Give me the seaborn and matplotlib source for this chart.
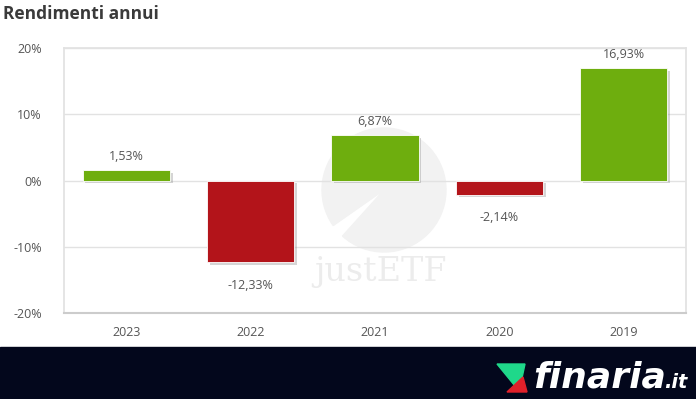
import numpy as np
import pandas as pd
import matplotlib
matplotlib.use("Agg")
import matplotlib.pyplot as plt
import matplotlib.patheffects as pe
from matplotlib.patches import Rectangle, Wedge, Polygon
import seaborn as sns

years = ["2023", "2022", "2021", "2020", "2019"]
returns = [1.53, -12.33, 6.87, -2.14, 16.93]
y_ticks = [-20, -10, 0, 10, 20]

green = "#6eae0e"
red = "#b3141a"

df = pd.DataFrame({"anno": years, "rendimento": returns})
colors = [green if v >= 0 else red for v in returns]

sns.set_theme(style="white")
plt.rcParams["font.family"] = ["Open Sans", "DejaVu Sans"]

fig = plt.figure(figsize=(6.96, 3.99), dpi=100)
ax = fig.add_axes([64 / 696, 1 - 313 / 399, 622 / 696, 265 / 399])

# watermark behind the chart
wm = fig.add_axes([0, 0, 1, 1], zorder=0)
wm.set_xlim(0, 696)
wm.set_ylim(399, 0)
wm.axis("off")
wm.add_patch(Wedge((384, 190), 62, 145, 132, color="#f2f2f2"))
wm.text(380, 272, "justETF", family="DejaVu Serif", fontsize=24, color="#ececec",
        ha="center", va="center")
ax.set_zorder(1)
ax.patch.set_alpha(0)

sns.barplot(data=df, x="anno", y="rendimento", hue="anno", palette=colors,
            legend=False, width=0.7, saturation=1, ax=ax, zorder=3)
for bar in ax.patches:
    bar.set_edgecolor("white")
    bar.set_linewidth(0.6)
    bar.set_path_effects([pe.SimplePatchShadow(offset=(2, -2), shadow_rgbFace="#888888", alpha=0.35),
                          pe.Normal()])

for i, v in enumerate(returns):
    txt = f"{v:.2f}".replace(".", ",") + "%"
    if v >= 0:
        ax.annotate(txt, (i, v), xytext=(0, 5), textcoords="offset points",
                    ha="center", va="bottom", fontsize=9, color="#555555")
    else:
        ax.annotate(txt, (i, v), xytext=(0, -12), textcoords="offset points",
                    ha="center", va="top", fontsize=9, color="#555555")

ax.set_ylim(-20, 20)
ax.set_yticks(y_ticks)
ax.set_yticklabels([f"{t}%" for t in y_ticks])
ax.set_xlim(-0.5, 4.5)
ax.grid(axis="y", color="#e2e2e2", linewidth=1, zorder=0)
ax.set_xlabel("")
ax.set_ylabel("")
ax.tick_params(axis="both", length=0, labelsize=9, colors="#555555")
ax.tick_params(axis="y", pad=16)
ax.tick_params(axis="x", pad=9)
for s in ["top", "right", "left"]:
    ax.spines[s].set_color("#e2e2e2")
ax.spines["bottom"].set_color("#cccccc")
ax.spines["bottom"].set_linewidth(1.5)

fig.text(3 / 696, 1 - 14 / 399, "Rendimenti annui", fontsize=12.5, fontweight="bold",
         color="#3a3a3a", ha="left", va="center")

# footer band with logo
fig.patches.append(Rectangle((0, 0), 1, 52 / 399, transform=fig.transFigure,
                             color="#03071c", zorder=0))
px = lambda x, y: (x / 696, 1 - y / 399)
fig.patches.append(Polygon([px(497, 364), px(525, 364), px(522, 378), px(515, 386)],
                           closed=True, transform=fig.transFigure, color="#1fd88a"))
fig.patches.append(Polygon([px(523, 377), px(527, 392), px(507, 392)],
                           closed=True, transform=fig.transFigure, color="#e0202a"))
fig.text(533 / 696, 1 - 377 / 399, "finaria", fontsize=26, fontweight="bold",
         fontstyle="italic", color="white", ha="left", va="center", family="DejaVu Sans")
fig.text(664 / 696, 1 - 382 / 399, ".it", fontsize=14, fontweight="bold",
         fontstyle="italic", color="white", ha="left", va="center", family="DejaVu Sans")

fig.savefig("out.png", dpi=100)
